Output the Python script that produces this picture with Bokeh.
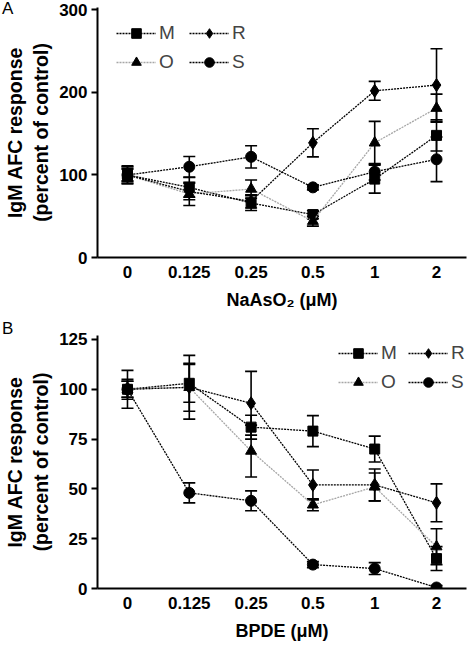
from bokeh.plotting import figure
from bokeh.models import (ColumnDataSource, Whisker, TeeHead, Legend, LegendItem,
                          Range1d, FixedTicker, GridBox, Div)
from bokeh.embed import file_html
from bokeh.resources import INLINE

# ---------------- data ----------------
doses = ["0", "0.125", "0.25", "0.5", "1", "2"]

# Panel A: NaAsO2
a_m = [100, 85, 66, 52, 95, 148]
a_m_err = [10, 12, 9, 5, 17, 19]
a_o = [100, 77, 83, 44, 139, 181]
a_o_err = [8, 14, 11, 6, 26, 17]
a_r = [100, 80, 68, 139, 202, 209]
a_r_err = [7, 10, 8, 17, 11.5, 44]
a_s = [100, 110, 122, 85, 104, 119]
a_s_err = [11, 12.5, 13.5, 3, 10, 27]

# Panel B: BPDE
b_m = [100, 103, 81, 79, 70, 15]
b_m_err = [4, 9.5, 6, 7.8, 6.5, 6]
b_o = [100, 101, 69, 42, 51, 21]
b_o_err = [9.5, 16, 13, 3, 7, 9]
b_r = [100, 101, 93, 52, 52, 43]
b_r_err = [5, 12, 16, 7.5, 8, 9.5]
b_s = [100, 48, 44, 12, 10, 0.5]
b_s_err = [4, 5, 5, 1.5, 3, 1]

a_ticks = [0, 100, 200, 300]
b_ticks = [0, 25, 50, 75, 100, 125]

FONT = "Liberation Sans"
DASH = "2 1"

series_style = {
    "M": dict(marker="square", size=10, line_color="black"),
    "O": dict(marker="triangle", size=11, line_color="#a6a6a6"),
    "R": dict(marker="diamond", size=13, line_color="black"),
    "S": dict(marker="circle", size=11, line_color="black"),
}


def make_panel(series, yticks, yrange, xlabel, width, height,
               border, legend_loc, legend_label_width):
    idx = list(range(len(doses)))
    xr = (-0.485, len(doses) - 1 + 0.485)
    p = figure(width=width, height=height, output_backend="svg",
               toolbar_location=None,
               x_range=Range1d(*xr), y_range=Range1d(*yrange),
               min_border_left=border[0], min_border_right=border[1],
               min_border_top=border[2], min_border_bottom=border[3])
    p.outline_line_color = None
    p.xgrid.visible = False
    p.ygrid.visible = False
    p.background_fill_color = "white"

    items = {}
    for name, vals, errs in series:
        st = series_style[name]
        src = ColumnDataSource(dict(
            x=idx, y=vals,
            upper=[v + e for v, e in zip(vals, errs)],
            lower=[v - e for v, e in zip(vals, errs)]))
        w = Whisker(base="x", upper="upper", lower="lower", source=src,
                    dimension="height", line_color="black", line_width=1.6,
                    upper_head=TeeHead(size=12, line_width=1.6, line_color="black"),
                    lower_head=TeeHead(size=12, line_width=1.6, line_color="black"))
        p.add_layout(w)
        lr = p.line("x", "y", source=src, line_dash=DASH, line_width=1.3,
                    line_color=st["line_color"])
        sr = p.scatter("x", "y", source=src, marker=st["marker"], size=st["size"],
                       fill_color="black", line_color="black")
        items[name] = [lr, sr]

    legend = Legend(items=[LegendItem(label=n, renderers=items[n]) for n in ["M", "R", "O", "S"]],
                    location=legend_loc, orientation="horizontal", ncols=2,
                    glyph_width=40, glyph_height=24, label_width=legend_label_width,
                    label_standoff=3, spacing=5, padding=0, margin=0,
                    border_line_alpha=0, background_fill_alpha=0,
                    label_text_font=FONT, label_text_font_size="19px")
    p.add_layout(legend)

    # axes
    p.xaxis.ticker = FixedTicker(ticks=idx)
    p.xaxis.major_label_overrides = {i: d for i, d in zip(idx, doses)}
    p.yaxis.ticker = FixedTicker(ticks=yticks)
    for ax in (p.xaxis, p.yaxis):
        ax.axis_line_width = 2
        ax.axis_line_color = "black"
        ax.major_label_text_font = FONT
        ax.major_label_text_font_style = "bold"
        ax.major_label_text_font_size = "17px"
        ax.major_label_text_color = "black"
        ax.axis_label_text_font = FONT
        ax.axis_label_text_font_style = "bold"
        ax.axis_label_text_color = "black"
        ax.minor_tick_out = 0
        ax.minor_tick_in = 0
        ax.major_tick_in = 0
    p.xaxis.axis_label_text_font_size = "18px"
    p.yaxis.axis_label_text_font_size = "19.5px"
    p.xaxis.major_tick_out = 0
    p.xaxis.major_label_standoff = 8
    p.xaxis.axis_label_standoff = 9
    p.xaxis.axis_label = xlabel
    p.yaxis.major_tick_out = 6
    p.yaxis.major_tick_line_width = 2
    p.yaxis.major_label_standoff = 4
    p.yaxis.axis_label_standoff = 4
    p.yaxis.axis_label = "IgM AFC response\n(percent of control)"
    return p


def letter_div(letter):
    return Div(text=letter, width=20, height=20, margin=0, align="start",
               styles={"font-family": FONT, "font-size": "17px", "line-height": "1",
                       "color": "black", "padding-left": "2px"})


pA = make_panel([("M", a_m, a_m_err), ("O", a_o, a_o_err),
                 ("R", a_r, a_r_err), ("S", a_s, a_s_err)],
                a_ticks, (0, 303), "NaAsO\u2082 (\u03bcM)", 471, 320,
                (97, 5, 7, 63), (19, 183), 25)
pB = make_panel([("M", b_m, b_m_err), ("O", b_o, b_o_err),
                 ("R", b_r, b_r_err), ("S", b_s, b_s_err)],
                b_ticks, (0, 127), "BPDE (\u03bcM)", 471, 328,
                (97, 3, 15, 60), (241, 194), 22)

layout = GridBox(children=[(pA, 0, 0), (letter_div("A"), 0, 0),
                           (pB, 1, 0), (letter_div("B"), 1, 0)], spacing=0)

open("out.html", "w").write(file_html(layout, INLINE))
